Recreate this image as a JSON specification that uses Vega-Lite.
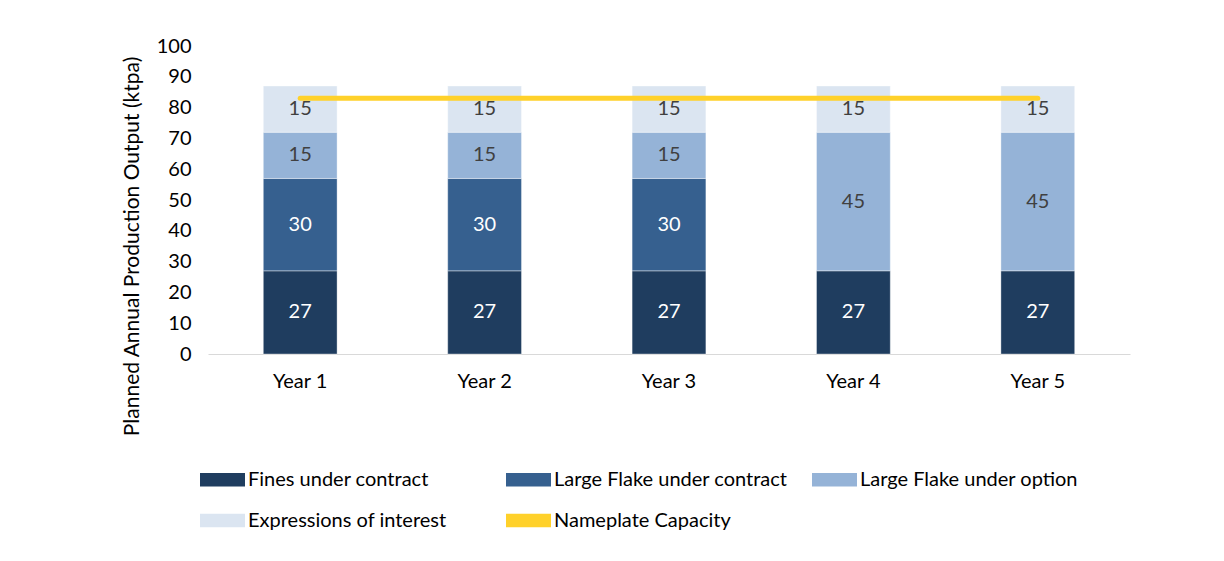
{
  "$schema": "https://vega.github.io/schema/vega-lite/v6.json",
  "autosize": {"type": "none"},
  "width": 922,
  "height": 308,
  "padding": {"left": 208, "top": 46, "right": 94, "bottom": 207},
  "background": "white",
  "config": {
    "font": "Lato",
    "view": {"stroke": null},
    "axis": {"labelFont": "Lato", "titleFont": "Lato", "labelFontSize": 20, "labelColor": "black", "titleColor": "black"}
  },
  "datasets": {
    "bars": [
      {"year": "Year 1", "series": "Fines under contract", "ord": 1, "value": 27},
      {"year": "Year 1", "series": "Large Flake under contract", "ord": 2, "value": 30},
      {"year": "Year 1", "series": "Large Flake under option", "ord": 3, "value": 15},
      {"year": "Year 1", "series": "Expressions of interest", "ord": 4, "value": 15},
      {"year": "Year 2", "series": "Fines under contract", "ord": 1, "value": 27},
      {"year": "Year 2", "series": "Large Flake under contract", "ord": 2, "value": 30},
      {"year": "Year 2", "series": "Large Flake under option", "ord": 3, "value": 15},
      {"year": "Year 2", "series": "Expressions of interest", "ord": 4, "value": 15},
      {"year": "Year 3", "series": "Fines under contract", "ord": 1, "value": 27},
      {"year": "Year 3", "series": "Large Flake under contract", "ord": 2, "value": 30},
      {"year": "Year 3", "series": "Large Flake under option", "ord": 3, "value": 15},
      {"year": "Year 3", "series": "Expressions of interest", "ord": 4, "value": 15},
      {"year": "Year 4", "series": "Fines under contract", "ord": 1, "value": 27},
      {"year": "Year 4", "series": "Large Flake under option", "ord": 3, "value": 45},
      {"year": "Year 4", "series": "Expressions of interest", "ord": 4, "value": 15},
      {"year": "Year 5", "series": "Fines under contract", "ord": 1, "value": 27},
      {"year": "Year 5", "series": "Large Flake under option", "ord": 3, "value": 45},
      {"year": "Year 5", "series": "Expressions of interest", "ord": 4, "value": 15}
    ],
    "capacity": [
      {"year": "Year 1", "series": "Nameplate Capacity", "value": 83},
      {"year": "Year 2", "series": "Nameplate Capacity", "value": 83},
      {"year": "Year 3", "series": "Nameplate Capacity", "value": 83},
      {"year": "Year 4", "series": "Nameplate Capacity", "value": 83},
      {"year": "Year 5", "series": "Nameplate Capacity", "value": 83}
    ]
  },
  "encoding": {
    "x": {
      "field": "year", "type": "nominal", "sort": null,
      "scale": {"paddingInner": 0.6, "paddingOuter": 0.3},
      "axis": {"title": null, "labelAngle": 0, "ticks": false, "domainColor": "#d9d9d9", "domainWidth": 1, "labelPadding": 17, "grid": false}
    }
  },
  "layer": [
    {
      "data": {"name": "bars"},
      "mark": {"type": "bar", "stroke": "white", "strokeWidth": 0.6, "strokeOpacity": 0.6},
      "encoding": {
        "y": {
          "field": "value", "type": "quantitative", "stack": "zero",
          "scale": {"domain": [0, 100], "nice": false},
          "axis": {"title": "Planned Annual Production Output (ktpa)", "titleFontSize": 21, "titleFontWeight": "normal", "values": [0,10,20,30,40,50,60,70,80,90,100], "labelOverlap": false, "domain": false, "ticks": false, "grid": false, "labelPadding": 17, "titleX": -66, "titleY": 200, "titleAngle": -90}
        },
        "color": {
          "field": "series", "type": "nominal",
          "scale": {
            "domain": ["Fines under contract", "Large Flake under contract", "Large Flake under option", "Expressions of interest", "Nameplate Capacity"],
            "range": ["#1f3d5f", "#36608f", "#95b3d7", "#dbe5f1", "#ffd12a"]
          },
          "legend": {
            "orient": "none", "legendX": -8, "legendY": 411,
            "columns": 3, "direction": "horizontal", "title": null,
            "labelFont": "Lato", "labelFontSize": 20, "labelColor": "black", "labelLimit": 400,
            "labelOffset": 3, "rowPadding": 8, "columnPadding": 24, "gridAlign": "all",
            "symbolSize": 2025, "symbolType": "M-1,-0.3H1V0.3H-1Z", "symbolStrokeWidth": 0,
            "encode": {
              "symbols": {
                "update": {
                  "shape": {"signal": "datum.label === 'Nameplate Capacity' ? 'M-1,-0.11H1V0.11H-1Z' : 'M-1,-0.3H1V0.3H-1Z'"},
                  "fill": {"scale": "color", "field": "value"},
                  "strokeWidth": {"value": 0},
                  "opacity": {"value": 1},
                  "fillOpacity": {"value": 1}
                }
              }
            }
          }
        },
        "order": {"field": "ord", "type": "quantitative"}
      }
    },
    {
      "data": {"name": "bars"},
      "transform": [
        {"stack": "value", "groupby": ["year"], "sort": [{"field": "ord", "order": "ascending"}], "as": ["v0", "v1"]},
        {"calculate": "(datum.v0 + datum.v1) / 2", "as": "mid"}
      ],
      "mark": {"type": "text", "fontSize": 20, "font": "Lato", "baseline": "middle", "align": "center"},
      "encoding": {
        "y": {"field": "mid", "type": "quantitative",
          "axis": {"title": "Planned Annual Production Output (ktpa)", "titleFontSize": 21, "titleFontWeight": "normal", "values": [0,10,20,30,40,50,60,70,80,90,100], "labelOverlap": false, "domain": false, "ticks": false, "grid": false, "labelPadding": 17, "titleX": -66, "titleY": 200, "titleAngle": -90}},
        "text": {"field": "value", "type": "quantitative"},
        "color": {
          "condition": {"test": "datum.ord <= 2", "value": "white"},
          "value": "#404040"
        }
      }
    },
    {
      "data": {"name": "capacity"},
      "mark": {"type": "line", "strokeWidth": 5, "strokeCap": "round"},
      "encoding": {
        "y": {"field": "value", "type": "quantitative",
          "axis": {"title": "Planned Annual Production Output (ktpa)", "titleFontSize": 21, "titleFontWeight": "normal", "values": [0,10,20,30,40,50,60,70,80,90,100], "labelOverlap": false, "domain": false, "ticks": false, "grid": false, "labelPadding": 17, "titleX": -66, "titleY": 200, "titleAngle": -90}},
        "color": {"field": "series", "type": "nominal"}
      }
    }
  ]
}
